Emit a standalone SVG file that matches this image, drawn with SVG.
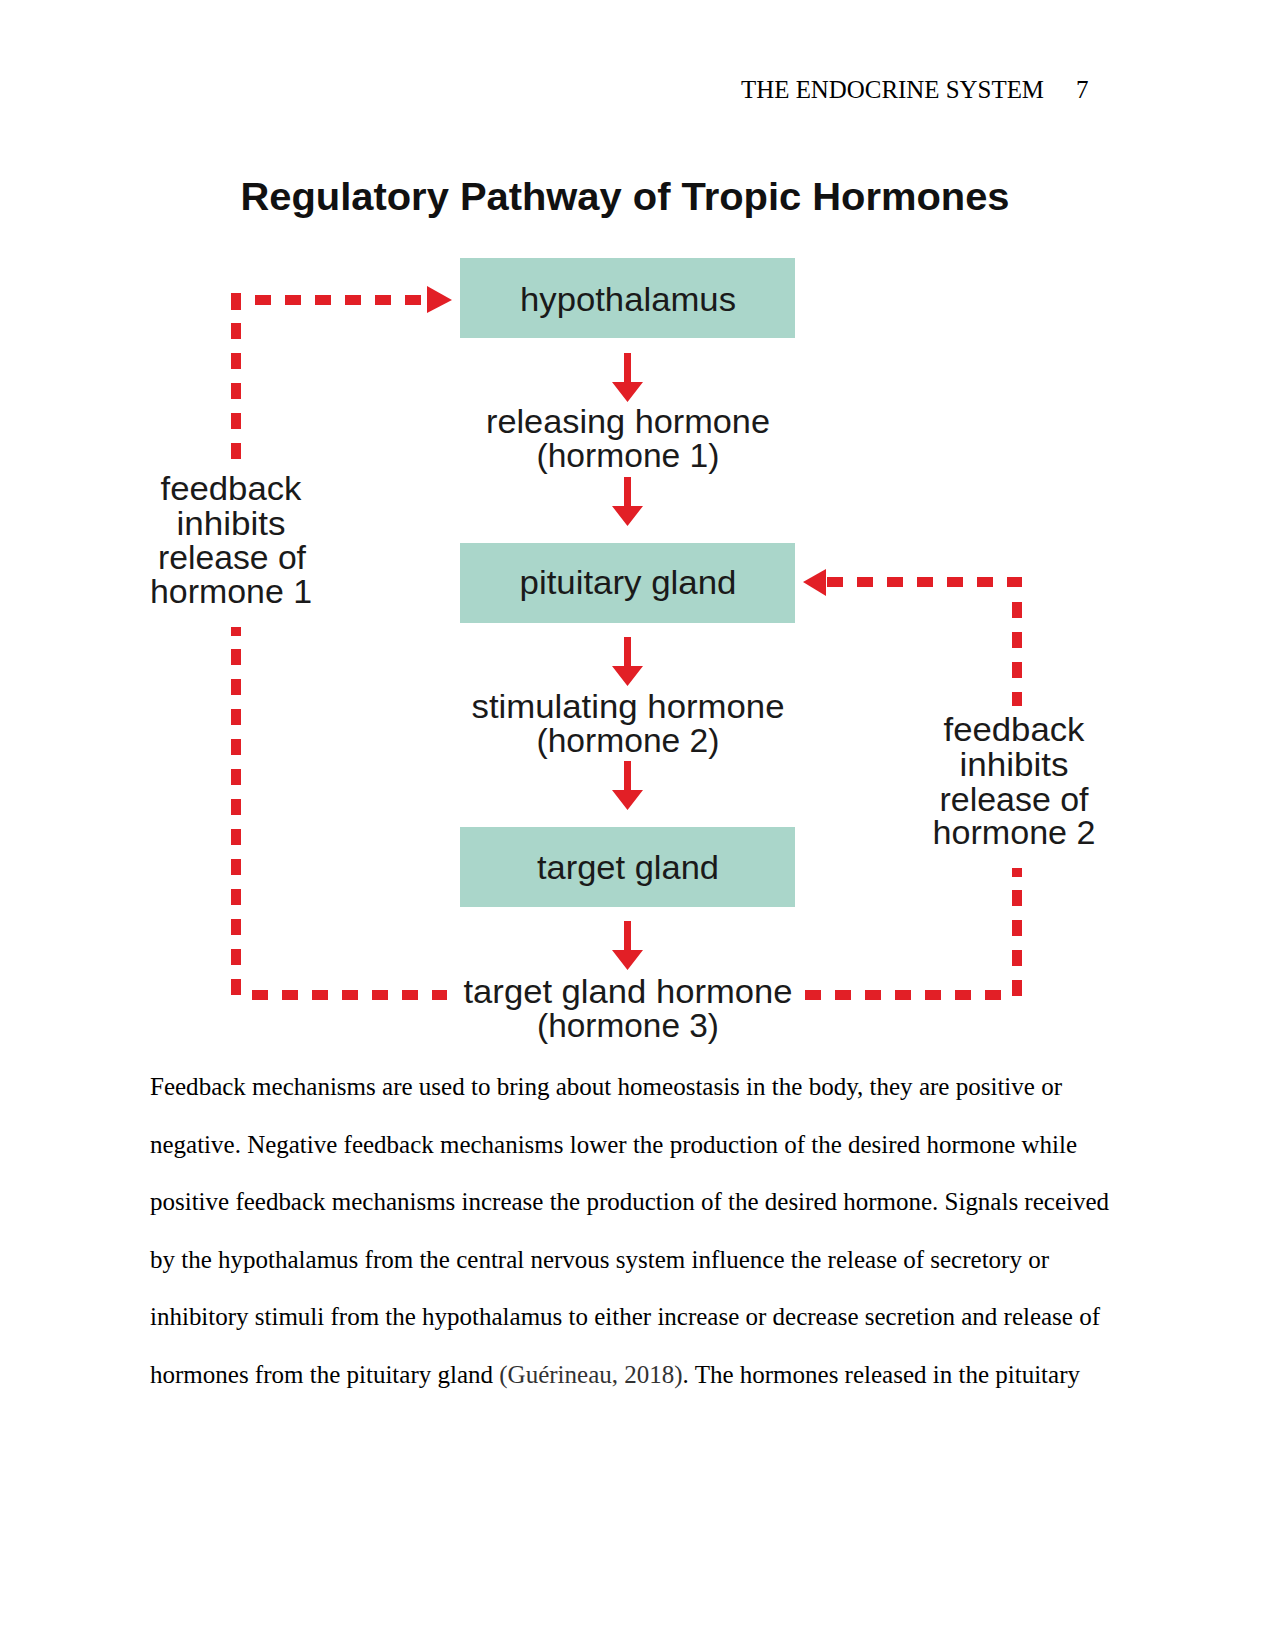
<svg xmlns="http://www.w3.org/2000/svg" width="1275" height="1651" viewBox="0 0 1275 1651">
<style>
.box{fill:#aad6ca}
.lbl{font-family:"Liberation Sans",Arial,sans-serif;font-size:34px;fill:#1a1a1a;text-anchor:middle}
.title{font-family:"Liberation Sans",Arial,sans-serif;font-size:38px;font-weight:bold;fill:#111;text-anchor:middle}
.body{font-family:"Liberation Serif","Times New Roman",serif;font-size:25px;fill:#000}
.arr{fill:#e21f26}
.dash{fill:none;stroke:#e21f26;stroke-width:10;stroke-dasharray:16 14}
.seg{fill:none;stroke:#e21f26;stroke-width:10}
</style>
<rect width="1275" height="1651" fill="#fff"/>
<g id="header">
<text class="body" x="741" y="98" textLength="303" lengthAdjust="spacingAndGlyphs">THE ENDOCRINE SYSTEM</text>
<text class="body" x="1076" y="98">7</text>
</g>
<g id="title">
<text class="title" x="625" y="210" textLength="769" lengthAdjust="spacingAndGlyphs">Regulatory Pathway of Tropic Hormones</text>
</g>
<g id="hypothalamus">
<rect class="box" x="460" y="258" width="335" height="80"/>
<text class="lbl" x="628" y="311" textLength="216" lengthAdjust="spacingAndGlyphs">hypothalamus</text>
</g>
<g id="releasing-hormone">
<text class="lbl" x="628" y="433" textLength="284" lengthAdjust="spacingAndGlyphs">releasing hormone</text>
<text class="lbl" x="628" y="467" textLength="183" lengthAdjust="spacingAndGlyphs">(hormone 1)</text>
</g>
<g id="pituitary">
<rect class="box" x="460" y="543" width="335" height="80"/>
<text class="lbl" x="628" y="594" textLength="217" lengthAdjust="spacingAndGlyphs">pituitary gland</text>
</g>
<g id="stimulating-hormone">
<text class="lbl" x="628" y="718" textLength="313" lengthAdjust="spacingAndGlyphs">stimulating hormone</text>
<text class="lbl" x="628" y="752" textLength="183" lengthAdjust="spacingAndGlyphs">(hormone 2)</text>
</g>
<g id="target-gland">
<rect class="box" x="460" y="827" width="335" height="80"/>
<text class="lbl" x="628" y="879" textLength="182" lengthAdjust="spacingAndGlyphs">target gland</text>
</g>
<g id="target-gland-hormone">
<text class="lbl" x="628" y="1003" textLength="329" lengthAdjust="spacingAndGlyphs">target gland hormone</text>
<text class="lbl" x="628" y="1037" textLength="182" lengthAdjust="spacingAndGlyphs">(hormone 3)</text>
</g>
<g id="feedback-1">
<text class="lbl" x="231" y="500" textLength="141" lengthAdjust="spacingAndGlyphs">feedback</text>
<text class="lbl" x="231" y="535" textLength="109" lengthAdjust="spacingAndGlyphs">inhibits</text>
<text class="lbl" x="232" y="569" textLength="148" lengthAdjust="spacingAndGlyphs">release of</text>
<text class="lbl" x="231" y="603" textLength="162" lengthAdjust="spacingAndGlyphs">hormone 1</text>
</g>
<g id="feedback-2">
<text class="lbl" x="1014" y="741" textLength="141" lengthAdjust="spacingAndGlyphs">feedback</text>
<text class="lbl" x="1014" y="776" textLength="109" lengthAdjust="spacingAndGlyphs">inhibits</text>
<text class="lbl" x="1014" y="811" textLength="149" lengthAdjust="spacingAndGlyphs">release of</text>
<text class="lbl" x="1014" y="844" textLength="163" lengthAdjust="spacingAndGlyphs">hormone 2</text>
</g>
<g id="connectors">
<path class="arr" d="M624 353h7v29h12l-15.5 20l-15.5-20h12z"/>
<path class="arr" d="M624 477h7v29h12l-15.5 20l-15.5-20h12z"/>
<path class="arr" d="M624 637h7v29h12l-15.5 20l-15.5-20h12z"/>
<path class="arr" d="M624 761h7v29h12l-15.5 20l-15.5-20h12z"/>
<path class="arr" d="M624 921h7v29h12l-15.5 20l-15.5-20h12z"/>
<!-- feedback loop 1 -->
<path class="seg" d="M236 293V310"/>
<path class="dash" d="M236 323V460"/>
<path class="dash" d="M255 300H426"/>
<polygon class="arr" points="427,286 452,300 427,313"/>
<path class="seg" d="M236 627V636"/>
<path class="dash" d="M236 649V1000"/>
<path class="dash" d="M252 995H447"/>
<!-- feedback loop 2 -->
<path class="dash" d="M827 582H1022"/>
<path class="dash" d="M1017 602V706"/>
<polygon class="arr" points="826,569 803,582 826,596"/>
<path class="seg" d="M1017 868V877"/>
<path class="dash" d="M1017 890V1000"/>
<path class="dash" d="M805 995H1003"/>
</g>
<g id="body-text">
<text class="body" x="150" y="1095" textLength="912" lengthAdjust="spacingAndGlyphs">Feedback mechanisms are used to bring about homeostasis in the body, they are positive or</text>
<text class="body" x="150" y="1152.5" textLength="927" lengthAdjust="spacingAndGlyphs">negative. Negative feedback mechanisms lower the production of the desired hormone while</text>
<text class="body" x="150" y="1210" textLength="959" lengthAdjust="spacingAndGlyphs">positive feedback mechanisms increase the production of the desired hormone. Signals received</text>
<text class="body" x="150" y="1267.5" textLength="899" lengthAdjust="spacingAndGlyphs">by the hypothalamus from the central nervous system influence the release of secretory or</text>
<text class="body" x="150" y="1325" textLength="950" lengthAdjust="spacingAndGlyphs">inhibitory stimuli from the hypothalamus to either increase or decrease secretion and release of</text>
<text class="body" x="150" y="1382.5" textLength="930" lengthAdjust="spacingAndGlyphs">hormones from the pituitary gland <tspan fill="#333">(Guérineau, 2018)</tspan>. The hormones released in the pituitary</text>
</g>
</svg>
